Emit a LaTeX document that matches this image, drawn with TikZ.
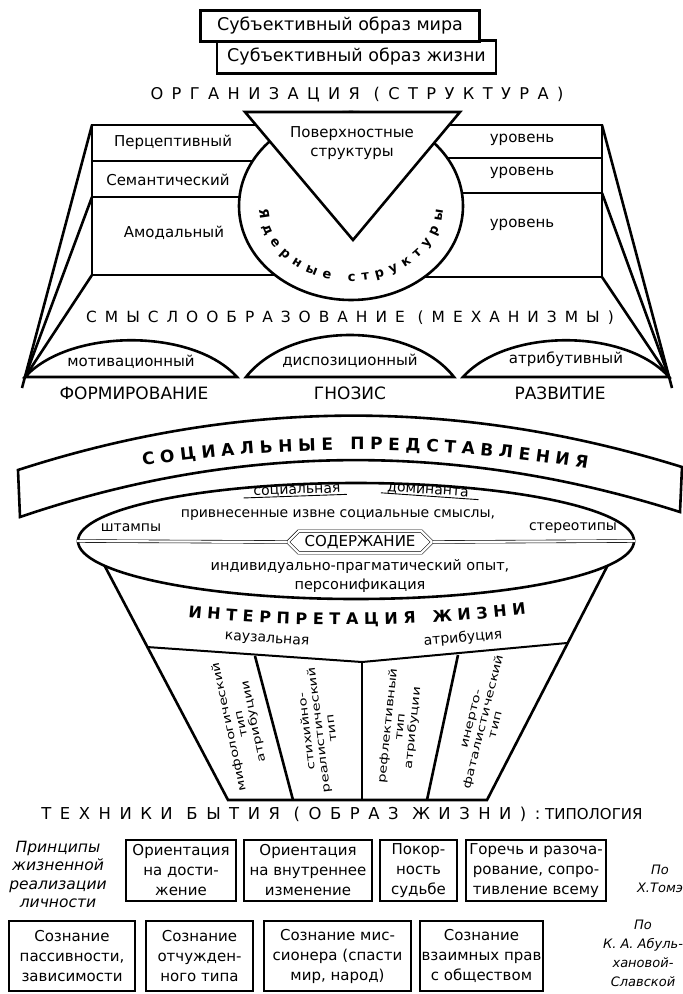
\documentclass[tikz,border=0pt]{standalone}
\usepackage{fontspec}
\usepackage{graphicx}
\setmainfont{DejaVu Sans}
\newfontfamily\spacedfont{DejaVu Sans}[LetterSpace=52]
\newcommand{\stretchcol}[1]{\scalebox{1.33}[1]{\begin{tabular}{@{}c@{}}#1\end{tabular}}}
\usetikzlibrary{positioning,shapes.geometric,shapes.symbols,decorations.text}

\begin{document}
\begin{tikzpicture}[x=1pt,y=-1pt,
  ln/.style={line width=2.6pt},
  thinln/.style={line width=0.9pt},
  dbl/.style={draw,line width=0.6pt,double=white,double distance=2.2pt},
  lbl/.style={font=\fontsize{15}{19}\selectfont,align=center,inner sep=0pt},
  spaced/.style={font=\fontsize{#1}{18}\selectfont\spacedfont,inner sep=0pt},
  box/.style={draw,line width=2.8pt,fill=white,align=center,inner sep=0pt,
              font=\fontsize{15}{20}\selectfont},
  coltext/.style={font=\fontsize{11}{12.5}\selectfont,inner sep=0pt,rotate=#1},
  note/.style={font=\fontsize{15}{18.5}\selectfont\itshape,align=center,inner sep=0pt}]
\useasboundingbox (0,0) rectangle (683,994);
\node[box,minimum width=279,minimum height=33,font=\fontsize{17.5}{20}\selectfont] (life) at (356.5,57) {Субъективный образ жизни};
\node[box,minimum width=279,minimum height=31,font=\fontsize{17.5}{20}\selectfont] (world) at (340,26) {Субъективный образ мира};
\node[spaced=16.2] (org) at (357,95) {ОРГАНИЗАЦИЯ (СТРУКТУРА)};
\draw[ln] (351,125) -- (92,125) -- (92,275) -- (351,275);
\draw[ln] (92,161) -- (351,161);
\draw[ln] (92,197) -- (351,197);
\draw[ln] (351,125) -- (602,125) -- (602,277) -- (351,277);
\draw[ln] (602,158) -- (351,158);
\draw[ln] (602,193) -- (351,193);
\coordinate (lpt) at (25,377);
\coordinate (rpt) at (669,377);
\draw[ln] (92,125) -- (22,388);
\draw[ln] (92,197) -- (lpt);
\draw[ln] (92,275) -- (lpt);
\draw[ln] (602,125) -- (672,388);
\draw[ln] (602,193) -- (rpt);
\draw[ln] (602,277) -- (rpt);
\node[ellipse,draw,ln,fill=white,minimum width=224,minimum height=188,inner sep=0pt] (core) at (351,206) {};
\draw[ln,fill=white] (245,112) -- (460,112) -- (353,240) -- cycle;
\node[lbl] (surf) at (352,143) {Поверхностные\\структуры};
\path[decorate,decoration={text along path,text align=fit to path,
  text={|\fontsize{13}{15}\selectfont\bfseries|Ядерные структуры}}]
  (core.center) ++(177:92 and 75) arc[start angle=177,end angle=3,x radius=92,y radius=75];
\node[lbl] (perc) at (173,142) {Перцептивный};
\node[lbl] (sem) at (168,180) {Семантический};
\node[lbl] (amod) at (174,233) {Амодальный};
\node[lbl] (lev1) at (522,140) {уровень};
\node[lbl] (lev2) at (522,173) {уровень};
\node[lbl] (lev3) at (522,225) {уровень};
\node[spaced=15.4] (sense) at (350,318) {СМЫСЛООБРАЗОВАНИЕ (МЕХАНИЗМЫ)};
\draw[ln] (lpt) .. controls (70,328) and (193,328) .. (237,377) -- cycle;
\draw[ln] (246,377) .. controls (290,321) and (410,321) .. (454,377) -- cycle;
\draw[ln] (463,377) .. controls (507,328) and (625,328) .. (rpt) -- cycle;
\node[lbl] (motiv) at (131,362) {мотивационный};
\node[lbl] (dispo) at (350,361) {диспозиционный};
\node[lbl] (attr) at (566,359) {атрибутивный};
\node[lbl,font=\fontsize{17}{19}\selectfont] (form) at (134,393) {ФОРМИРОВАНИЕ};
\node[lbl,font=\fontsize{17}{19}\selectfont] (gnos) at (350,393) {ГНОЗИС};
\node[lbl,font=\fontsize{17}{19}\selectfont] (devel) at (560,393) {РАЗВИТИЕ};
\draw[ln,fill=white] (18,470) .. controls (240,398) and (460,398) .. (682,467)
  -- (680,512) .. controls (460,442) and (240,442) .. (20,517) -- cycle;
\path[decorate,decoration={text along path,text align=fit to path,
  text={|\fontsize{17}{20}\selectfont\bfseries|СОЦИАЛЬНЫЕ ПРЕДСТАВЛЕНИЯ}}]
  (143,466) .. controls (291,444) and (439,444) .. (587,469);
\draw[ln] (100,557) -- (228,800) -- (487,800) -- (613,555);
\node[ellipse,draw,ln,fill=white,minimum width=556,minimum height=116,inner sep=0pt] (cont) at (356,541) {};
\node[signal,signal to=east and west,dbl,fill=white,inner xsep=6pt,inner ysep=4pt,
      font=\fontsize{15}{18}\selectfont] (sod) at (360,542) {СОДЕРЖАНИЕ};
\draw[dbl] (cont.west) -- (sod.west);
\draw[dbl] (sod.east) -- (cont.east);
\node[lbl,font=\fontsize{14}{18}\selectfont,rotate=2] (soc) at (297,491) {социальная};
\node[lbl,font=\fontsize{14}{18}\selectfont,rotate=-4] (dom) at (428,491) {доминанта};
\draw[thinln,shorten <=-10pt,shorten >=-6pt] (soc.south west) -- (soc.south east);
\draw[thinln,shorten <=-6pt,shorten >=-10pt] (dom.south west) -- (dom.south east);
\node[lbl,font=\fontsize{14}{18}\selectfont] (ext) at (338,515) {привнесенные извне социальные смыслы,};
\node[lbl,font=\fontsize{14}{18}\selectfont] (stamp) at (131,528) {штампы};
\node[lbl,font=\fontsize{14}{18}\selectfont] (stereo) at (573,528) {стереотипы};
\node[lbl,font=\fontsize{14.5}{19}\selectfont] (indiv) at (360,576) {индивидуально-прагматический опыт,\\персонификация};
\path[decorate,decoration={text along path,text align=fit to path,
  text={|\fontsize{16}{19}\selectfont\bfseries|ИНТЕРПРЕТАЦИЯ ЖИЗНИ}}]
  (188,617) .. controls (300,628) and (410,628) .. (526,614);
\draw[line width=2pt] (147,647) -- (362,662) -- (567,643);
\draw[ln] (255,656) -- (293,800);
\draw[ln] (362,662) -- (362,800);
\draw[ln] (458,655) -- (427,800);
\node[lbl,font=\fontsize{14}{18}\selectfont,rotate=-4] (caus) at (267,640) {каузальная};
\node[lbl,font=\fontsize{14}{18}\selectfont,rotate=5] (attrib) at (463,638) {атрибуция};
\node[coltext=102] (myth) at (242,724) {\stretchcol{мифологический\\тип\\атрибуции}};
\node[coltext=97] (spont) at (320,730) {\stretchcol{стихийно-\\реалистический\\тип}};
\node[coltext=84] (refl) at (401,727) {\stretchcol{рефлективный\\тип\\атрибуции}};
\node[coltext=76] (inert) at (484,722) {\stretchcol{инерто-\\фаталистический\\тип}};
\node[lbl] (tech) at (342,814) {{\fontsize{16.4}{19}\spacedfont ТЕХНИКИ БЫТИЯ (ОБРАЗ ЖИЗНИ):} ТИПОЛОГИЯ};
\node[box,minimum width=110,minimum height=61] (achv) at (181,870.5) {Ориентация\\на дости-\\жение};
\node[box,minimum width=128,minimum height=61] (inner) at (308,870.5) {Ориентация\\на внутреннее\\изменение};
\node[box,minimum width=77,minimum height=61] (fate) at (418.5,870.5) {Покор-\\ность\\судьбе};
\node[box,minimum width=140,minimum height=61] (bitter) at (536,870.5) {Горечь и разоча-\\рование, сопро-\\тивление всему};
\node[box,minimum width=126,minimum height=70] (pass) at (72,956) {Сознание\\пассивности,\\зависимости};
\node[box,minimum width=107,minimum height=70] (alien) at (199.5,956) {Сознание\\отчужден-\\ного типа};
\node[box,minimum width=147,minimum height=70] (miss) at (337.5,956) {Сознание мис-\\сионера (спасти\\мир, народ)};
\node[box,minimum width=123,minimum height=70] (rights) at (481.5,956) {Сознание\\взаимных прав\\с обществом};
\node[note,font=\fontsize{15.5}{18.5}\selectfont\itshape] (princ) at (58,874.5) {Принципы\\жизненной\\реализации\\личности};
\node[note,font=\fontsize{13}{18.5}\selectfont\itshape] (thome) at (660,879) {По\\Х.Томэ};
\node[note,font=\fontsize{13}{19}\selectfont\itshape] (abul) at (643,953) {По\\К. А. Абуль-\\хановой-\\Славской};
\end{tikzpicture}
\end{document}
